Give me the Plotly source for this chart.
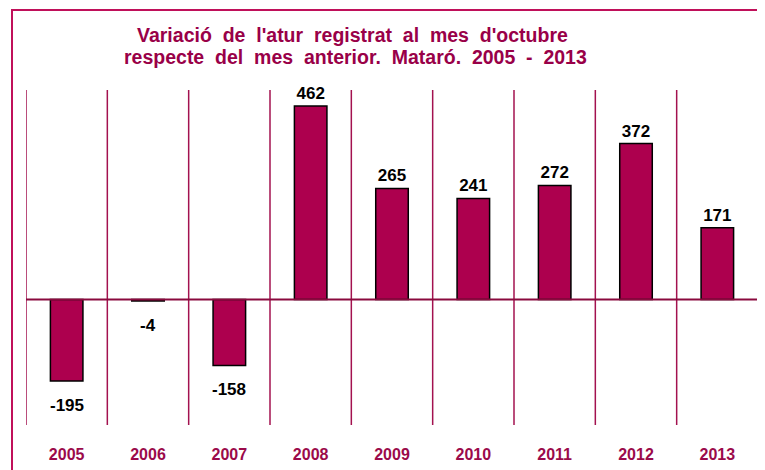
import plotly.graph_objects as go

years = ["2005", "2006", "2007", "2008", "2009", "2010", "2011", "2012", "2013"]
values = [-195, -4, -158, 462, 265, 241, 272, 372, 171]
title_lines = ["Variació de l'atur registrat al mes d'octubre",
               "respecte del mes anterior. Mataró. 2005 - 2013"]

BAR = "#AD004E"
LINE = "#A3124F"
TXT = "#9B0A4A"
FONT = "Liberation Sans, Arial"

# page body has an 8px default margin -> work in figure coords (screen - 8)
OFF = 8
W, H = 765, 470
l, r, t, b = 26 - OFF, W - (758 - OFF), 90 - OFF, H - (425 - OFF)
pw, ph = W - l - r, H - t - b

def px2x(px):
    return (px - OFF - l) / pw

def py2y(py):
    return (H - b - (py - OFF)) / ph

fig = go.Figure()
fig.add_trace(go.Bar(
    x=years, y=values, width=0.4,
    marker=dict(color=BAR, line=dict(color="#000000", width=1.5)),
    text=[str(v) if v >= 0 else "" for v in values], textposition="outside",
    textfont=dict(family=FONT, size=17, color="#000000", weight="bold"),
    cliponaxis=False,
))

shapes = []
for i in range(len(years) + 1):
    shapes.append(dict(type="line", xref="x", yref="paper",
                       x0=i - 0.5, x1=i - 0.5, y0=0, y1=1,
                       line=dict(color=LINE, width=1.5), layer="below"))
shapes.append(dict(type="line", xref="paper", yref="y", x0=0, x1=1, y0=0, y1=0,
                   line=dict(color="#8A0A3E", width=2), layer="above"))
shapes.append(dict(type="rect", xref="paper", yref="paper",
                   x0=px2x(12), x1=px2x(790), y0=py2y(10), y1=py2y(500),
                   line=dict(color="#C0105A", width=2)))

annotations = []
for line_txt, cx, cy in [(title_lines[0], 352, 35), (title_lines[1], 355, 57)]:
    annotations.append(dict(
        text=line_txt.replace(" ", " &nbsp;"), xref="paper", yref="paper",
        x=px2x(cx), y=py2y(cy), xanchor="center", yanchor="middle",
        showarrow=False,
        font=dict(family=FONT, size=19.5, color="#990048", weight="bold")))

# labels under negative bars (category axis -> annotation x is the category index)
for i, v in enumerate(values):
    if v < 0:
        annotations.append(dict(
            text=str(v), x=i, y=v, xref="x", yref="y",
            xanchor="center", yanchor="middle", yshift=-24, showarrow=False,
            font=dict(family=FONT, size=17, color="#000000", weight="bold")))

fig.update_layout(
    width=W, height=H,
    margin=dict(l=l, r=r, t=t, b=b, autoexpand=False),
    paper_bgcolor="white", plot_bgcolor="white",
    showlegend=False,
    shapes=shapes,
    annotations=annotations,
    xaxis=dict(type="category", range=[-0.5, len(years) - 0.5],
               showgrid=False, zeroline=False, showline=False, automargin=False,
               ticks="outside", ticklen=0, ticklabelstandoff=15,
               tickfont=dict(family=FONT, size=16, color=TXT, weight="bold"),
               fixedrange=True),
    yaxis=dict(range=[-300, 500], showgrid=False, zeroline=False, showline=False,
               automargin=False, showticklabels=False, ticks="", fixedrange=True),
)

fig.write_html("out.html")
